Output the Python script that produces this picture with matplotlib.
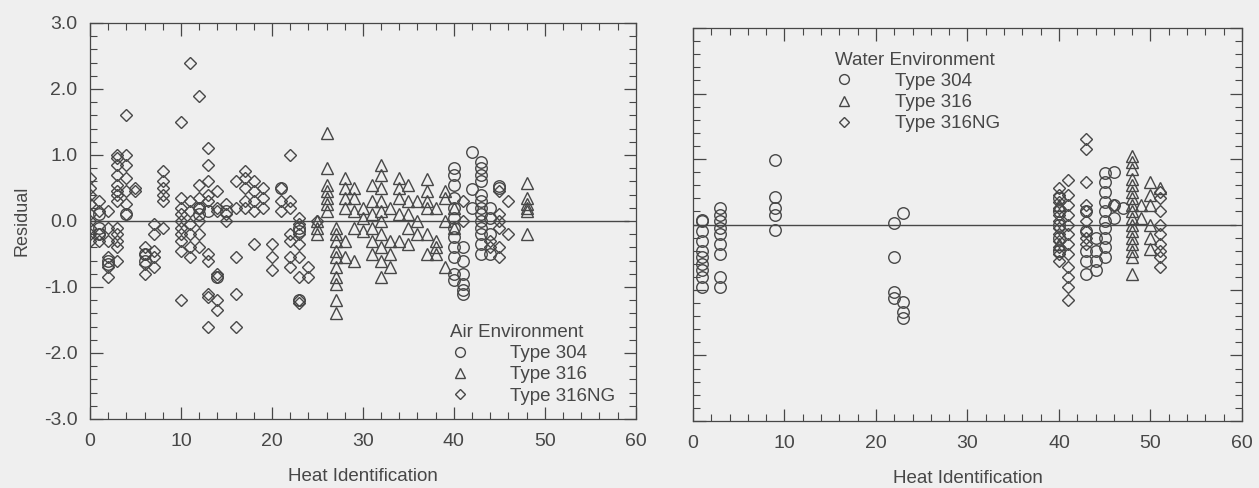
import matplotlib
matplotlib.use("Agg")
import matplotlib.pyplot as plt
from matplotlib.lines import Line2D
from matplotlib.ticker import MultipleLocator

plt.rcParams['font.family'] = ['Liberation Sans', 'DejaVu Sans']

# ---------------- Air environment (left panel) ----------------
air_304_x = [1, 1, 1, 2, 2, 4, 6, 6, 12, 12, 13, 14, 15, 21, 23, 23, 23,
             40, 40, 40, 40, 40, 40, 40, 40, 40, 40, 40, 40,
             41, 41, 41, 41, 41, 41,
             42, 42, 42,
             43, 43, 43, 43, 43, 43, 43, 43, 43, 43, 43, 43, 43,
             44, 44, 44, 44,
             45, 45]
air_304_y = [0.1, -0.1, -0.2, -0.6, -0.65, 0.1, -0.5, -0.6, 0.2, 0.1, 0.15, -0.85, 0.15, 0.5, -0.1, -0.15, -1.2,
             0.8, 0.7, 0.55, 0.35, 0.2, 0.05, -0.1, -0.25, -0.4, -0.55, -0.8, -0.9,
             -0.4, -0.6, -0.8, -0.95, -1.05, -1.1,
             1.05, 0.48, 0.2,
             0.9, 0.8, 0.7, 0.6, 0.4, 0.3, 0.2, 0.1, 0.0, -0.1, -0.2, -0.35, -0.5,
             0.2, 0.05, -0.2, -0.5,
             0.53, 0.5]

air_316_x = [25, 25, 25,
             26, 26, 26, 26, 26, 26, 26,
             27, 27, 27, 27, 27, 27, 27, 27, 27, 27,
             28, 28, 28, 28, 28, 28,
             29, 29, 29, 29, 29,
             30, 30, 30,
             31, 31, 31, 31, 31, 31,
             32, 32, 32, 32, 32, 32, 32, 32, 32, 32,
             33, 33, 33, 33,
             34, 34, 34, 34, 34,
             35, 35, 35, 35, 35,
             36, 36, 36,
             37, 37, 37, 37, 37, 37,
             38, 38, 38, 38,
             39, 39, 39, 39,
             40, 40,
             48, 48, 48, 48, 48, 48]
air_316_y = [0.0, -0.1, -0.2,
             1.33, 0.8, 0.55, 0.45, 0.35, 0.25, 0.15,
             -0.1, -0.2, -0.3, -0.45, -0.55, -0.7, -0.85, -0.95, -1.2, -1.4,
             0.65, 0.5, 0.35, 0.2, -0.3, -0.55,
             0.5, 0.35, 0.15, -0.1, -0.6,
             0.2, 0.05, -0.15,
             0.55, 0.3, 0.1, -0.1, -0.3, -0.5,
             0.85, 0.7, 0.5, 0.3, 0.15, 0.0, -0.2, -0.4, -0.6, -0.85,
             0.2, -0.3, -0.5, -0.7,
             0.65, 0.5, 0.35, 0.1, -0.3,
             0.55, 0.3, 0.1, -0.1, -0.35,
             0.3, 0.0, -0.2,
             0.63, 0.45, 0.3, 0.2, -0.2, -0.5,
             0.2, -0.3, -0.4, -0.5,
             0.45, 0.35, 0.0, -0.7,
             0.2, -0.1,
             0.58, 0.35, 0.25, 0.2, 0.15, -0.2]

air_316ng_x = [0, 0, 0, 0, 0, 0, 0, 0, 0,
               1, 1, 1, 1,
               2, 2, 2, 2, 2, 2,
               3, 3, 3, 3, 3, 3, 3, 3, 3, 3, 3, 3, 3,
               4, 4, 4, 4, 4, 4, 4,
               5, 5,
               6, 6, 6, 6,
               7, 7, 7, 7, 7,
               8, 8, 8, 8, 8, 8,
               10, 10, 10, 10, 10, 10, 10, 10, 10, 10,
               11, 11, 11, 11, 11, 11, 11,
               12, 12, 12, 12, 12, 12, 12,
               13, 13, 13, 13, 13, 13, 13, 13, 13, 13,
               14, 14, 14, 14, 14, 14, 14,
               15, 15, 15,
               16, 16, 16, 16, 16,
               17, 17, 17, 17, 17,
               18, 18, 18, 18, 18,
               19, 19, 19,
               20, 20, 20,
               21, 21, 21,
               22, 22, 22, 22, 22, 22, 22,
               23, 23, 23, 23, 23, 23, 23, 23,
               24, 24,
               25,
               41, 41,
               44, 44,
               45, 45, 45, 45, 45, 45,
               46, 46]
air_316ng_y = [0.65, 0.5, 0.4, 0.25, 0.1, 0.0, -0.1, -0.2, -0.3,
               0.3, 0.15, -0.2, -0.3,
               0.15, -0.1, -0.3, -0.55, -0.7, -0.85,
               1.0, 0.95, 0.85, 0.7, 0.55, 0.45, 0.4, 0.3, -0.1, -0.2, -0.3, -0.4, -0.6,
               1.6, 1.0, 0.85, 0.65, 0.45, 0.25, 0.1,
               0.5, 0.45,
               -0.4, -0.5, -0.65, -0.8,
               -0.05, -0.2, -0.45, -0.55, -0.7,
               0.75, 0.6, 0.5, 0.4, 0.3, -0.1,
               1.5, 0.35, 0.2, 0.1, 0.0, -0.1, -0.2, -0.3, -0.45, -1.2,
               2.4, 0.3, 0.15, -0.05, -0.2, -0.4, -0.55,
               1.9, 0.55, 0.35, 0.2, 0.0, -0.2, -0.4,
               1.1, 0.85, 0.6, 0.4, 0.3, -0.5, -0.6, -1.1, -1.15, -1.6,
               0.45, 0.2, 0.15, -0.8, -0.85, -1.2, -1.35,
               0.25, 0.1, 0.0,
               0.6, 0.2, -0.55, -1.1, -1.6,
               0.75, 0.65, 0.5, 0.3, 0.2,
               0.6, 0.45, 0.3, 0.15, -0.35,
               0.5, 0.35, 0.2,
               -0.35, -0.55, -0.75,
               0.5, 0.3, 0.15,
               1.0, 0.3, 0.2, -0.2, -0.3, -0.55, -0.7,
               0.05, -0.05, -0.2, -0.35, -0.55, -0.85, -1.2, -1.25,
               -0.7, -0.85,
               0.0,
               0.3, 0.0,
               -0.3, -0.4,
               0.45, 0.1, 0.0, -0.1, -0.4, -0.55,
               0.3, -0.2]

# ---------------- Water environment (right panel) ----------------
wat_304_x = [1, 1, 1, 1, 1, 1, 1, 1, 1, 1,
             3, 3, 3, 3, 3, 3, 3, 3, 3,
             9, 9, 9, 9, 9,
             22, 22, 22, 22,
             23, 23, 23, 23,
             40, 40, 40, 40, 40,
             43, 43, 43, 43, 43,
             44, 44, 44, 44,
             45, 45, 45, 45, 45, 45, 45, 45, 45, 45,
             46, 46, 46,
             47]
wat_304_y = [0.07, 0.05, -0.1, -0.25, -0.4, -0.5, -0.6, -0.7, -0.8, -0.95,
             0.25, 0.15, 0.05, -0.05, -0.15, -0.3, -0.45, -0.8, -0.95,
             0.98, 0.42, 0.25, 0.15, -0.08,
             0.02, -0.5, -1.03, -1.12,
             0.17, -1.18, -1.33, -1.43,
             0.4, 0.2, 0.0, -0.2, -0.4,
             0.2, -0.1, -0.4, -0.55, -0.75,
             -0.2, -0.4, -0.55, -0.7,
             0.78, 0.65, 0.5, 0.35, 0.2, 0.05, -0.05, -0.2, -0.35, -0.5,
             0.8, 0.3, 0.1,
             0.25]

wat_316_x = [40, 40,
             48, 48, 48, 48, 48, 48, 48, 48, 48, 48, 48, 48, 48, 48, 48, 48, 48,
             49, 49,
             50, 50, 50, 50, 50, 50,
             51]
wat_316_y = [0.3, -0.3,
             1.05, 0.95, 0.85, 0.7, 0.6, 0.5, 0.4, 0.3, 0.2, 0.1, 0.0, -0.1, -0.2, -0.3, -0.4, -0.5, -0.75,
             0.3, 0.1,
             0.65, 0.45, 0.3, 0.0, -0.2, -0.37,
             0.55]

wat_316ng_x = [40, 40, 40, 40, 40, 40, 40, 40, 40, 40, 40, 40,
               41, 41, 41, 41, 41, 41, 41, 41, 41, 41, 41, 41,
               43, 43, 43, 43, 43, 43, 43, 43, 43,
               46,
               51, 51, 51, 51, 51, 51, 51, 51, 51]
wat_316ng_y = [0.55, 0.45, 0.35, 0.25, 0.15, 0.05, -0.05, -0.15, -0.25, -0.35, -0.45, -0.55,
               0.68, 0.45, 0.3, 0.15, 0.0, -0.15, -0.3, -0.45, -0.65, -0.8, -0.95, -1.15,
               1.3, 1.15, 0.65, 0.3, 0.2, 0.05, -0.1, -0.2, -0.3,
               0.3,
               0.5, 0.4, 0.2, 0.0, -0.15, -0.3, -0.4, -0.5, -0.65]

type_labels = ["Type 304", "Type 316", "Type 316NG"]
y_ticks = [-3.0, -2.0, -1.0, 0.0, 1.0, 2.0, 3.0]
x_ticks = [0, 10, 20, 30, 40, 50, 60]

INK = '#474747'
BG = '#efefef'
MEW = 1.0
markers = ['o', '^', 'D']
msizes = [8.3, 8.3, 6.0]

fig = plt.figure(figsize=(12.59, 4.88), dpi=100, facecolor=BG)
axL = fig.add_axes([0.0715, 0.1414, 0.4335, 0.8116])
axR = fig.add_axes([0.5504, 0.1373, 0.4361, 0.8053])


def style(ax, show_ylabels):
    ax.set_facecolor(BG)
    ax.set_xlim(0, 60)
    ax.set_ylim(-3, 3)
    ax.set_xticks(x_ticks)
    ax.set_yticks(y_ticks)
    ax.xaxis.set_minor_locator(MultipleLocator(2))
    ax.yaxis.set_minor_locator(MultipleLocator(0.2))
    ax.tick_params(which='both', direction='in', top=True, right=True, colors=INK)
    ax.tick_params(which='major', length=9, width=0.9, labelsize=14, labelcolor=INK)
    ax.tick_params(axis='x', which='major', pad=10)
    ax.tick_params(axis='y', which='major', pad=9)
    ax.tick_params(which='minor', length=5, width=0.8)
    ax.set_xticklabels([str(v) for v in x_ticks])
    if show_ylabels:
        ax.set_yticklabels([f"{v:.1f}" for v in y_ticks])
    else:
        ax.set_yticklabels([])
    for s in ax.spines.values():
        s.set_color(INK)
        s.set_linewidth(0.9)
    ax.hlines(0, 0, 59.3, color=INK, lw=1.0, zorder=1)
    ax.set_xlabel("Heat Identification", fontsize=13.5, color=INK, labelpad=13)


def scatter(ax, xs, ys, m, ms):
    ax.plot(xs, ys, linestyle='none', marker=m, markersize=ms, markerfacecolor='none',
            markeredgecolor=INK, markeredgewidth=MEW, zorder=3)


style(axL, True)
style(axR, False)
axL.set_ylabel("Residual", fontsize=13, color=INK, labelpad=10)

for (xs, ys), m, ms in zip([(air_304_x, air_304_y), (air_316_x, air_316_y), (air_316ng_x, air_316ng_y)],
                           markers, msizes):
    scatter(axL, xs, ys, m, ms)
for (xs, ys), m, ms in zip([(wat_304_x, wat_304_y), (wat_316_x, wat_316_y), (wat_316ng_x, wat_316ng_y)],
                           markers, msizes):
    scatter(axR, xs, ys, m, ms)


def legend(ax, title, anchor):
    handles = [Line2D([], [], linestyle='none', marker=m, markersize=ms * 0.85, markerfacecolor='none',
                      markeredgecolor=INK, markeredgewidth=MEW) for m, ms in zip(markers, msizes)]
    leg = ax.legend(handles, type_labels, title=title, loc='upper left', bbox_to_anchor=anchor,
                    frameon=False, fontsize=13.5, title_fontsize=13.5, handletextpad=2.2,
                    labelspacing=0.22, borderaxespad=0, borderpad=0, handlelength=1.0,
                    alignment='left')
    leg.get_title().set_color(INK)
    for t in leg.get_texts():
        t.set_color(INK)
    return leg


legend(axL, "Air Environment", (0.66, 0.24))
legend(axR, "Water Environment", (0.258, 0.94))

fig.savefig("out.png", dpi=100, facecolor=BG)
